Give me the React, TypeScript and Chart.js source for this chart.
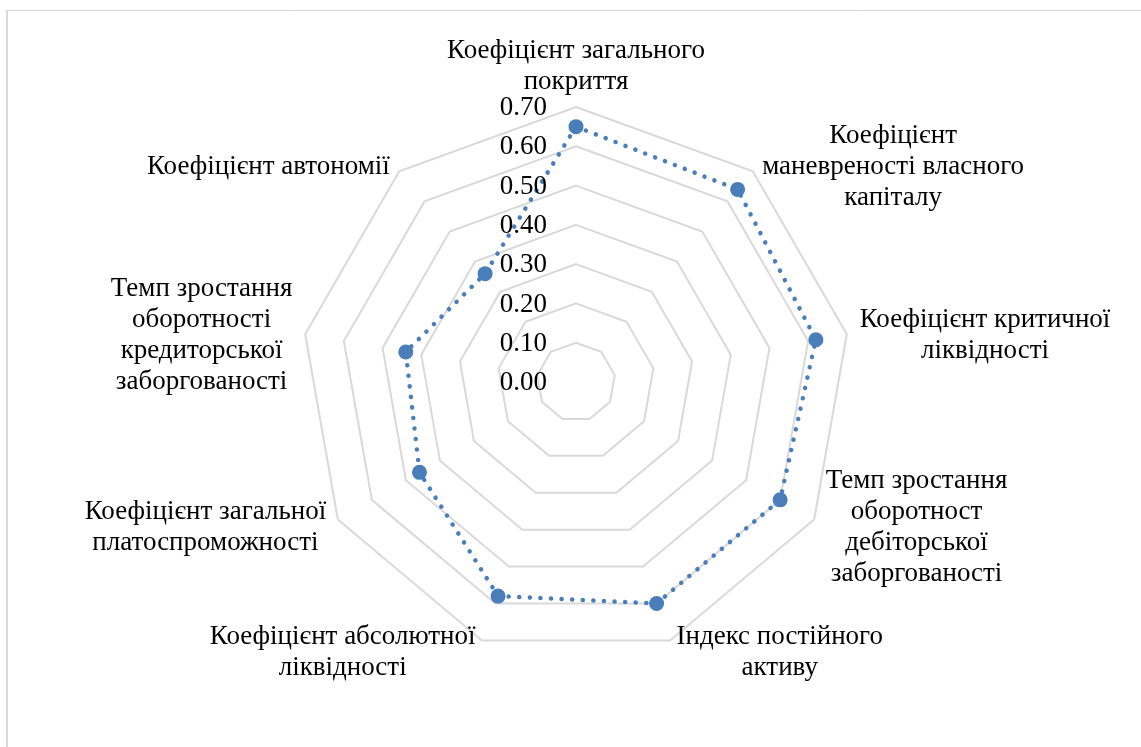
import React, { useEffect, useRef } from "react";
import { Chart, registerables } from "chart.js";

Chart.register(...registerables);

const categories: string[][] = [
  ["Коефіцієнт загального", "покриття"],
  ["Коефіцієнт", "маневреності власного", "капіталу"],
  ["Коефіцієнт критичної", "ліквідності"],
  ["Темп зростання", "оборотност", "дебіторської", "заборгованості"],
  ["Індекс постійного", "активу"],
  ["Коефіцієнт абсолютної", "ліквідності"],
  ["Коефіцієнт загальної", "платоспроможності"],
  ["Темп зростання", "оборотності", "кредиторської", "заборгованості"],
  ["Коефіцієнт автономії"],
];

const seriesValues: number[] = [0.65, 0.64, 0.62, 0.6, 0.6, 0.58, 0.46, 0.44, 0.36];

const tickLabels: string[] = ["0.00", "0.10", "0.20", "0.30", "0.40", "0.50", "0.60", "0.70"];
const tickValues: number[] = [0, 0.1, 0.2, 0.3, 0.4, 0.5, 0.6, 0.7];

const FONT = '27px "Liberation Serif", "Times New Roman", serif';
const TEXT_COLOR = "#000000";
const SERIES_COLOR = "#4a7ebb";

const framePlugin = {
  id: "frame",
  beforeDraw(chart: any) {
    const ctx = chart.ctx;
    ctx.save();
    ctx.fillStyle = "#ffffff";
    ctx.fillRect(0, 0, chart.width, chart.height);
    ctx.strokeStyle = "#d9d9d9";
    ctx.lineWidth = 2;
    ctx.beginPath();
    ctx.moveTo(7, chart.height);
    ctx.lineTo(7, 10);
    ctx.stroke();
    ctx.lineWidth = 1;
    ctx.beginPath();
    ctx.moveTo(7, 10.5);
    ctx.lineTo(chart.width, 10.5);
    ctx.stroke();
    ctx.restore();
  },
};

const labelsPlugin = {
  id: "customLabels",
  afterDatasetsDraw(chart: any) {
    const scale = chart.scales.r;
    const ctx = chart.ctx;
    ctx.save();
    ctx.font = FONT;
    ctx.fillStyle = TEXT_COLOR;
    ctx.textBaseline = "middle";
    const lh = 31;

    // tick labels, right-aligned left of the vertical axis
    ctx.textAlign = "right";
    tickValues.forEach((v, i) => {
      const d = scale.getDistanceFromCenterForValue(v);
      ctx.fillText(tickLabels[i], scale.xCenter - 29, scale.yCenter - d + 1);
    });

    // point labels
    ctx.textAlign = "center";
    categories.forEach((lines, i) => {
      const pos = scale.getPointPosition(i, scale.drawingArea + 10);
      const angle = (i / categories.length) * Math.PI * 2;
      const s = Math.sin(angle);
      const maxW = Math.max(...lines.map((l) => ctx.measureText(l).width));
      const n = lines.length;
      let cx: number;
      let cy: number;
      if (Math.abs(s) < 0.01) {
        cx = pos.x;
        cy = pos.y - (n * lh) / 2;
      } else if (s > 0) {
        cx = pos.x + 3 + maxW / 2;
        cy = pos.y + 3;
      } else {
        cx = pos.x - 3 - maxW / 2;
        cy = pos.y + 3;
      }
      lines.forEach((l, k) => {
        ctx.fillText(l, cx, cy + (k - (n - 1) / 2) * lh);
      });
    });
    ctx.restore();
  },
};

export default function App() {
  const ref = useRef<HTMLCanvasElement>(null);
  useEffect(() => {
    if (!ref.current) return;
    const chart = new Chart(ref.current, {
      type: "radar",
      data: {
        labels: categories.map((c) => c.join(" ")),
        datasets: [
          {
            label: "Series",
            data: seriesValues,
            borderColor: SERIES_COLOR,
            backgroundColor: SERIES_COLOR,
            borderWidth: 4.5,
            borderDash: [0.1, 10.5],
            borderCapStyle: "round",
            fill: false,
            pointRadius: 7.5,
            pointBorderWidth: 0,
            pointBackgroundColor: SERIES_COLOR,
            pointBorderColor: SERIES_COLOR,
          } as any,
        ],
      },
      options: {
        animation: false,
        responsive: false,
        maintainAspectRatio: false,
        layout: { padding: { left: 76, right: 65, top: 107, bottom: 90 } },
        plugins: { legend: { display: false }, tooltip: { enabled: false } },
        scales: {
          r: {
            min: 0,
            max: 0.7,
            ticks: { stepSize: 0.1, display: false },
            grid: { color: "#d9d9d9", lineWidth: 2 },
            angleLines: { display: false },
            pointLabels: { display: false },
          },
        },
      },
      plugins: [framePlugin, labelsPlugin],
    });
    return () => chart.destroy();
  }, []);
  return (
    <div style={{ position: "fixed", left: 0, top: 0, width: 1141, height: 747, background: "#fff" }}>
      <canvas ref={ref} width={1141} height={747} style={{ display: "block" }} />
    </div>
  );
}
